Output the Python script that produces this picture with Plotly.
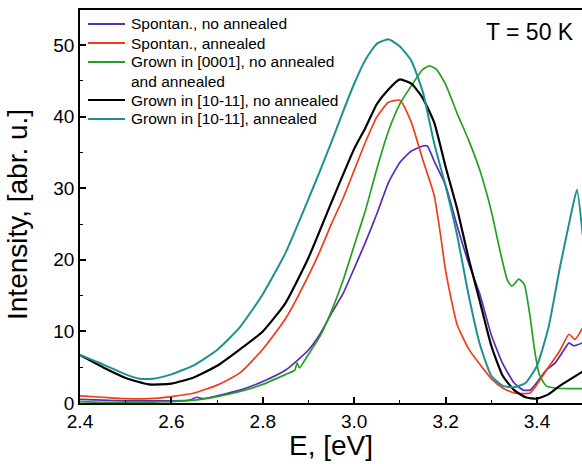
import plotly.graph_objects as go

# ---- data ----
names = [
    "Spontan., no annealed",
    "Spontan., annealed",
    "Grown in [0001], no annealed",
    "Grown in [10-11], no annealed",
    "Grown in [10-11], annealed",
]
name_extra = "and annealed"  # second line of the [0001] legend entry

e_purple = [2.40, 2.45, 2.50, 2.55, 2.60, 2.64, 2.655, 2.67, 2.70, 2.75, 2.80, 2.85, 2.90, 2.925, 2.95,
            2.975, 3.00, 3.025, 3.05, 3.075, 3.10, 3.125, 3.15, 3.16, 3.175, 3.20, 3.225, 3.25, 3.275,
            3.30, 3.325, 3.35, 3.37, 3.385, 3.405, 3.42, 3.44, 3.46, 3.47, 3.48, 3.50]
i_purple = [0.5, 0.4, 0.3, 0.3, 0.3, 0.4, 0.8, 0.6, 1.0, 1.8, 3.0, 4.6, 7.4, 9.6, 12.5,
            15.2, 18.8, 22.5, 26.5, 30.8, 33.6, 35.2, 35.9, 35.9, 33.8, 30.4, 24.8, 19.6, 15.2,
            9.5, 5.5, 2.8, 1.8, 1.8, 3.3, 4.6, 5.6, 7.5, 8.4, 8.0, 8.4]

e_red = [2.40, 2.45, 2.50, 2.55, 2.60, 2.65, 2.70, 2.75, 2.80, 2.85, 2.90, 2.925, 2.95, 2.975, 3.00,
         3.025, 3.05, 3.075, 3.10, 3.125, 3.15, 3.175, 3.19, 3.20, 3.225, 3.25, 3.275, 3.30, 3.325,
         3.35, 3.385, 3.40, 3.42, 3.45, 3.47, 3.483, 3.50]
i_red = [1.0, 0.8, 0.6, 0.6, 0.9, 1.4, 2.5, 4.2, 7.5, 11.8, 17.8, 21.2, 25.0, 28.5, 32.5,
         36.5, 40.0, 42.0, 42.3, 39.2, 34.0, 29.0, 23.0, 18.5, 11.0, 7.6, 5.4, 3.4, 2.1,
         1.4, 1.4, 2.6, 4.5, 7.3, 9.6, 8.9, 10.5]

e_green = [2.40, 2.45, 2.50, 2.55, 2.60, 2.65, 2.70, 2.75, 2.80, 2.85, 2.87, 2.875, 2.88, 2.90, 2.925,
           2.95, 2.975, 3.00, 3.025, 3.05, 3.075, 3.10, 3.125, 3.15, 3.165, 3.18, 3.20, 3.225, 3.25,
           3.275, 3.30, 3.32, 3.335, 3.345, 3.36, 3.372, 3.385, 3.395, 3.405, 3.42, 3.44, 3.47, 3.50]
i_green = [0.2, 0.1, 0.1, 0.1, 0.2, 0.4, 0.9, 1.6, 2.6, 4.0, 4.6, 5.6, 4.9, 6.8, 9.3,
           12.8, 17.0, 22.0, 27.0, 32.8, 38.0, 41.8, 44.3, 46.6, 47.1, 46.6, 44.5, 40.5, 36.8,
           32.5, 26.8, 21.0, 17.2, 16.3, 17.3, 16.6, 12.0, 7.3, 4.0, 2.4, 2.1, 2.0, 2.0]

e_black = [2.40, 2.45, 2.50, 2.55, 2.60, 2.65, 2.70, 2.75, 2.80, 2.85, 2.90, 2.95, 3.00, 3.025, 3.05,
           3.075, 3.10, 3.125, 3.15, 3.175, 3.20, 3.225, 3.25, 3.275, 3.30, 3.325, 3.35, 3.375, 3.40,
           3.425, 3.45, 3.475, 3.50]
i_black = [6.7, 5.0, 3.5, 2.6, 2.7, 3.6, 5.2, 7.5, 10.0, 14.0, 20.3, 28.0, 35.5, 38.5, 41.8,
           43.8, 45.2, 44.6, 42.6, 39.2, 33.0, 27.2, 20.3, 14.2, 8.0, 3.8, 1.8, 0.8, 0.6,
           1.2, 2.4, 3.4, 4.4]

e_cyan = [2.40, 2.45, 2.50, 2.53, 2.56, 2.60, 2.65, 2.70, 2.75, 2.80, 2.85, 2.90, 2.925, 2.95, 2.975,
          3.00, 3.025, 3.05, 3.075, 3.10, 3.125, 3.15, 3.175, 3.20, 3.225, 3.25, 3.275, 3.30, 3.325,
          3.35, 3.375, 3.40, 3.425, 3.45, 3.475, 3.4875, 3.50]
i_cyan = [6.7, 5.4, 4.0, 3.4, 3.4, 4.0, 5.3, 7.4, 10.6, 15.2, 21.0, 28.5, 32.4, 36.4, 40.6,
          44.6, 48.0, 50.2, 50.8, 49.8, 47.8, 43.5, 36.3, 30.3, 23.5, 15.2, 8.2, 3.8, 2.4,
          2.2, 2.8, 5.2, 10.5, 18.9, 26.5, 29.8, 23.5]

x_ticks = [2.4, 2.6, 2.8, 3.0, 3.2, 3.4]
y_ticks = [0, 10, 20, 30, 40, 50]
x_title = "E, [eV]"
y_title = "Intensity, [abr. u.]"

series = [
    (e_purple, i_purple, "#5a2db8", 1.7),
    (e_red, i_red, "#f23c16", 1.7),
    (e_green, i_green, "#22a022", 1.7),
    (e_black, i_black, "#000000", 2.2),
    (e_cyan, i_cyan, "#1f9090", 2.0),
]

FONT = "Liberation Sans, Arial, sans-serif"

# plot-area geometry in pixels (used only for placing texts and the hand-made legend)
W, H = 582, 464
ML, MR, MT, MB = 80, 0, 10, 61
PW, PH = W - ML - MR, H - MT - MB


def px_x(px):
    return (px - ML) / PW


def px_y(py):
    return (H - MB - py) / PH


fig = go.Figure()
for (ex, iy, col, w), nm in zip(series, names):
    fig.add_trace(go.Scatter(x=ex, y=iy, mode="lines", name=nm, showlegend=False,
                             line=dict(color=col, width=w, shape="spline", smoothing=0.5)))

# hand-made legend (line swatch + label) to match the original layout
legend_rows = [24, 43, 62, 100, 119]
shapes = []
annotations = []
for (ex, iy, col, w), nm, ry in zip(series, names, legend_rows):
    shapes.append(dict(type="line", xref="paper", yref="paper",
                       x0=px_x(88), x1=px_x(125), y0=px_y(ry), y1=px_y(ry),
                       line=dict(color=col, width=2)))
    annotations.append(dict(text=nm, x=px_x(129), y=px_y(ry), xref="paper", yref="paper",
                            xanchor="left", yanchor="middle", showarrow=False,
                            font=dict(family=FONT, size=15.5, color="black")))
annotations.append(dict(text=name_extra, x=px_x(129), y=px_y(81), xref="paper", yref="paper",
                        xanchor="left", yanchor="middle", showarrow=False,
                        font=dict(family=FONT, size=15.5, color="black")))
annotations.append(dict(text="T = 50 K", x=px_x(576), y=px_y(32), xref="paper", yref="paper",
                        xanchor="right", yanchor="middle", showarrow=False,
                        font=dict(family=FONT, size=23, color="black")))
# axis titles, placed where the original has them
annotations.append(dict(text=x_title, x=px_x(331), y=px_y(445), xref="paper", yref="paper",
                        xanchor="center", yanchor="middle", showarrow=False,
                        font=dict(family=FONT, size=28, color="black")))
annotations.append(dict(text=y_title, x=px_x(18), y=px_y(215), xref="paper", yref="paper",
                        xanchor="center", yanchor="middle", showarrow=False, textangle=-90,
                        font=dict(family=FONT, size=28, color="black")))

fig.update_layout(
    width=W, height=H,
    margin=dict(l=ML, r=MR, t=MT, b=MB),
    paper_bgcolor="white", plot_bgcolor="white",
    font=dict(family=FONT, color="black"),
    showlegend=False,
    shapes=shapes,
    annotations=annotations,
)

fig.update_xaxes(
    range=[2.4, 3.4985], tickvals=x_ticks, ticktext=[f"{v:.1f}" for v in x_ticks],
    ticks="inside", ticklen=6, tickwidth=1.5, tickcolor="black",
    minor=dict(ticks="inside", ticklen=3, tickwidth=1.2, dtick=0.1, tick0=2.4, tickcolor="black"),
    showline=True, linecolor="black", linewidth=1.6, mirror=True,
    showgrid=False, zeroline=False, automargin=False,
    tickfont=dict(family=FONT, size=19, color="black"),
)
fig.update_yaxes(
    range=[0, 54.9], tickvals=y_ticks, ticktext=[str(v) for v in y_ticks],
    ticks="inside", ticklen=6, tickwidth=1.5, tickcolor="black",
    minor=dict(ticks="inside", ticklen=3, tickwidth=1.2, dtick=5, tick0=0, tickcolor="black"),
    showline=True, linecolor="black", linewidth=1.6,
    showgrid=False, zeroline=False, automargin=False,
    tickfont=dict(family=FONT, size=19, color="black"),
)

fig.write_html("out.html", config={"displayModeBar": False},
               post_script="document.body.style.margin='0';")
